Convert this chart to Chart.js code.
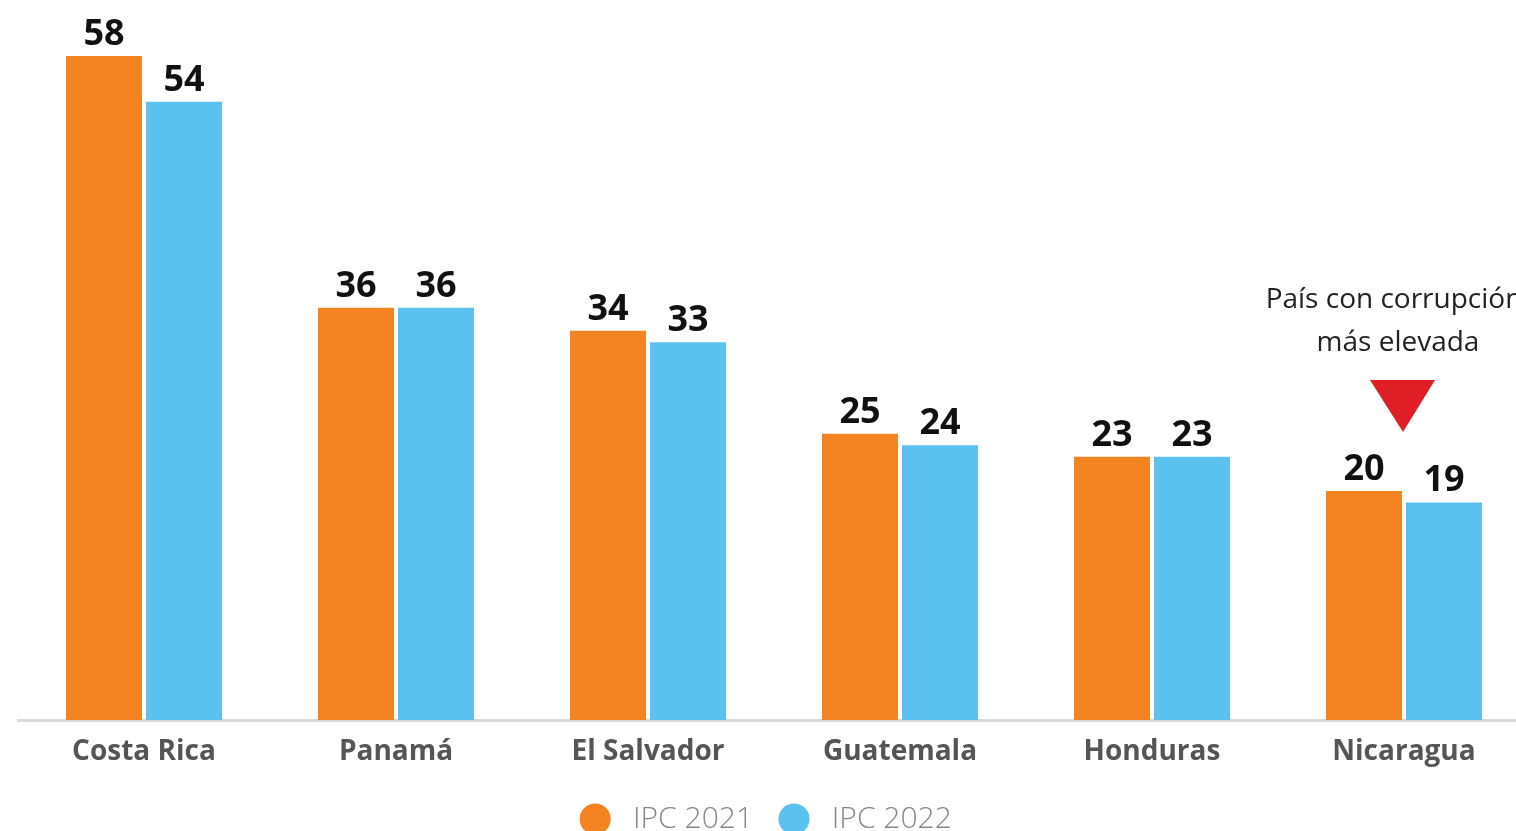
<!DOCTYPE html>
<html>
<head>
<meta charset="utf-8">
<script src="https://cdn.jsdelivr.net/npm/chart.js@4.4.1/dist/chart.umd.min.js"></script>
<style>
  html, body { margin: 0; padding: 0; background: #fff; overflow: hidden; }
  #wrap { width: 1532px; height: 844px; }
</style>
</head>
<body>
<div id="wrap"><canvas id="chart"></canvas></div>
<script>
const paises = ["Costa Rica", "Panamá", "El Salvador", "Guatemala", "Honduras", "Nicaragua"];
const ipc2021 = [58, 36, 34, 25, 23, 20];
const ipc2022 = [54, 36, 33, 24, 23, 19];
const nota = ["País con corrupción", "más elevada"];

const valueLabels = {
    id: "valueLabels",
    afterDatasetsDraw(chart) {
        const ctx = chart.ctx;
        ctx.save();
        ctx.font = "bold 36px 'Open Sans'";
        ctx.fillStyle = "#111";
        ctx.textAlign = "center";
        ctx.textBaseline = "alphabetic";
        chart.data.datasets.forEach((ds, i) => {
            chart.getDatasetMeta(i).data.forEach((bar, j) => {
                ctx.fillText(ds.data[j], bar.x, bar.y - 11);
            });
        });

        // nota sobre Nicaragua
        const bar = chart.getDatasetMeta(0).data[5];
        const cx = chart.scales.x.getPixelForValue(5);
        ctx.font = "28px 'Open Sans'";
        ctx.fillStyle = "#222";
        ctx.textBaseline = "middle";
        ctx.fillText(nota[0], cx - 10, bar.y - 191);
        ctx.fillText(nota[1], cx - 6, bar.y - 148);
        ctx.fillStyle = "#e01e26";
        ctx.beginPath();
        ctx.moveTo(cx - 34, bar.y - 111);
        ctx.lineTo(cx + 31, bar.y - 111);
        ctx.lineTo(cx - 1, bar.y - 59);
        ctx.closePath();
        ctx.fill();
        ctx.restore();
    }
};

new Chart(document.getElementById("chart"), {
    type: "bar",
    data: {
        labels: paises,
        datasets: [
            { label: "IPC 2021", data: ipc2021, backgroundColor: "#f48421" },
            { label: "IPC 2022", data: ipc2022, backgroundColor: "#5bc2f0" }
        ]
    },
    options: {
        responsive: true,
        maintainAspectRatio: false,
        animation: false,
        categoryPercentage: 0.635,
        barPercentage: 0.95,
        layout: { padding: { left: 2, right: 2, top: 33, bottom: 0 } },
        plugins: {
            tooltip: { enabled: false },
            legend: {
                position: "bottom",
                labels: {
                    usePointStyle: true,
                    pointStyle: "circle",
                    boxWidth: 30,
                    boxHeight: 22,
                    padding: 26,
                    color: "#888",
                    font: { family: "'Open Sans'", size: 30, weight: "300" },
                    generateLabels: chart => Chart.defaults.plugins.legend.labels.generateLabels(chart)
                        .map(item => ({ ...item, text: " " + item.text }))
                }
            }
        },
        scales: {
            x: {
                grid: { display: false, drawTicks: false },
                border: { color: "#d9d9d9", width: 3 },
                ticks: {
                    padding: 15,
                    color: "#555",
                    font: { family: "'Open Sans'", size: 28, weight: "bold" }
                },
                afterFit: scale => { scale.height = 58; }
            },
            y: {
                min: 0,
                max: 60,
                grid: { display: false, drawTicks: false },
                border: { display: false },
                ticks: { display: false },
                afterFit: scale => { scale.width = 16; }
            }
        }
    },
    plugins: [valueLabels]
});
</script>
</body>
</html>
